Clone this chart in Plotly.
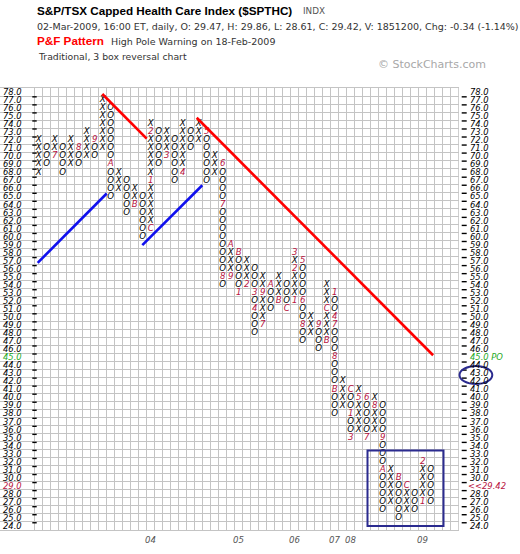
import plotly.graph_objects as go

# ---------------- data ----------------
# Point & Figure columns (column index = position in list), X columns and O columns alternate
col_types = ["X", "O"] * 25
col_lows = [68, 69, 70, 68, 69, 69, 70, 70, 71, 65, 66, 63, 64, 60, 61, 69, 70, 67, 68, 71,
            72, 67, 68, 54, 55, 53, 54, 48, 49, 51, 52, 51, 52, 47, 48, 46, 47, 38, 39, 35,
            36, 35, 36, 26, 27, 25, 26, 26, 27, 27]
col_highs = [72, 71, 72, 71, 72, 71, 73, 72, 77, 76, 68, 67, 66, 65, 74, 73, 73, 72, 74, 73,
             74, 73, 70, 69, 59, 58, 57, 56, 55, 54, 55, 54, 58, 57, 50, 49, 54, 53, 42, 41,
             41, 40, 40, 39, 31, 30, 29, 28, 32, 31]

# month markers that replace an X / O box
month_cols = [2, 5, 7, 9, 12, 14, 14, 14, 16, 18, 21, 23, 23, 23, 24, 24, 25, 25, 26, 27, 27,
              28, 28, 29, 30, 31, 32, 32, 32, 33, 33, 33, 35, 36, 36, 37, 37, 37, 37, 37,
              39, 39, 39, 40, 41, 41, 42, 43, 43, 45, 46, 48, 48]
month_rows = [70, 71, 72, 69, 64, 61, 67, 73, 70, 68, 73, 69, 64, 55, 55, 59, 58, 53, 54, 53, 51,
              49, 53, 54, 52, 51, 52, 56, 58, 57, 52, 49, 49, 47, 51, 53, 50, 49, 45, 41,
              41, 38, 35, 40, 40, 35, 39, 35, 31, 30, 29, 27, 32]
month_labels = ["7", "8", "9", "A", "B", "C", "1", "2", "3", "4", "5", "6", "7", "8", "9", "A",
                "B", "1", "2", "3", "4", "7", "9", "A", "B", "C", "1", "2", "3", "5", "6", "8",
                "9", "B", "C", "1", "4", "7", "8", "B", "C", "1", "3", "5", "6", "7", "8", "9",
                "A", "B", "C", "1", "2"]

# year labels on the bottom axis
year_labels = ["04", "05", "06", "07", "08", "09"]
year_cols = [14, 25, 32, 37, 39, 48]

# price scale (box size 1.0)
price_rows = list(range(24, 79))
po_price = 45          # price objective
last_price = 29.42     # last close
last_row = 29

# trend lines (column, price)
res1_cols, res1_rows = [7.95, 13.5], [77.75, 72.2]
res2_cols, res2_rows = [19.75, 49.3], [74.8, 45.25]
sup1_cols, sup1_rows = [-0.13, 8.5], [56.74, 65.37]
sup2_cols, sup2_rows = [12.95, 20.45], [58.95, 66.4]

# highlight box around the recent pattern (columns / prices)
box_cols = [41.1, 50.6]
box_rows = [24.0, 33.4]

# ---------------- layout helpers ----------------
W, H = 520, 554
ML, MR, MT, MB = 0, 61, 88, 24
PW, PH = W - ML - MR, H - MT - MB
X_MIN, X_MAX = -4.8375, 52.5375
Y_MIN, Y_MAX = 23.5, 78.5


def pxp(xpix):
    return (xpix - ML) / PW


def pyp(ypix):
    return (H - MB - ypix) / PH


def row_to_paper(r):
    return (r - Y_MIN) / (Y_MAX - Y_MIN)


MONTH_COLOR = "#B8123E"
GREEN = "#1faa1f"
GRID = "#c4c4c4"

# ---------------- build boxes ----------------
month_map = {(c, r): m for c, r, m in zip(month_cols, month_rows, month_labels)}
xo_x, xo_y, xo_t = [], [], []
mo_x, mo_y, mo_t = [], [], []
for c, (t, lo, hi) in enumerate(zip(col_types, col_lows, col_highs)):
    for r in range(lo, hi + 1):
        if (c, r) in month_map:
            mo_x.append(c); mo_y.append(r); mo_t.append(month_map[(c, r)])
        else:
            xo_x.append(c); xo_y.append(r); xo_t.append(t)

fig = go.Figure()

box_font = dict(family="DejaVu Sans, Verdana, sans-serif", size=8.6, style="italic")

fig.add_trace(go.Scatter(x=xo_x, y=xo_y, text=xo_t, mode="text", textposition="middle center",
                         textfont=dict(color="#000000", **box_font), hoverinfo="skip",
                         showlegend=False, cliponaxis=False))
fig.add_trace(go.Scatter(x=mo_x, y=mo_y, text=mo_t, mode="text", textposition="middle center",
                         textfont=dict(color=MONTH_COLOR, **box_font), hoverinfo="skip",
                         showlegend=False, cliponaxis=False))

for cols, rows, color in [(res1_cols, res1_rows, "#ff0000"), (res2_cols, res2_rows, "#ff0000"),
                          (sup1_cols, sup1_rows, "#1010ee"), (sup2_cols, sup2_rows, "#1010ee")]:
    fig.add_trace(go.Scatter(x=cols, y=rows, mode="lines", line=dict(color=color, width=2.6),
                             hoverinfo="skip", showlegend=False))

shapes = []
# highlight rectangle
shapes.append(dict(type="rect", xref="x", yref="y", x0=box_cols[0], x1=box_cols[1],
                   y0=box_rows[0], y1=box_rows[1], line=dict(color="#2b2b8f", width=2),
                   fillcolor="rgba(0,0,0,0)"))
# right border of grid
shapes.append(dict(type="line", xref="x", yref="paper", x0=52.5, x1=52.5, y0=0, y1=1,
                   line=dict(color=GRID, width=1)))
# axis tick marks (left and right)
for r in price_rows[1:]:
    yy = row_to_paper(r - 0.5) - 0.8 / PH
    shapes.append(dict(type="line", xref="paper", yref="paper", x0=pxp(32.3), x1=pxp(36.7),
                       y0=yy, y1=yy, line=dict(color="#000000", width=1.4)))
    shapes.append(dict(type="line", xref="paper", yref="paper", x0=pxp(461.7), x1=pxp(466.7),
                       y0=yy, y1=yy, line=dict(color="#000000", width=1.4)))
# ellipse around 43.0
shapes.append(dict(type="circle", xref="paper", yref="paper", x0=pxp(459.5), x1=pxp(492.3),
                   y0=pyp(384), y1=pyp(366), line=dict(color="#2b2b8f", width=2)))

annotations = []
lab_font = dict(family="DejaVu Sans, Verdana, sans-serif", size=8.4, style="italic")
for r in price_rows:
    lc = "#000000"
    if r == po_price:
        lc = GREEN
    elif r == last_row:
        lc = MONTH_COLOR
    annotations.append(dict(x=pxp(0.5), y=r, xref="paper", yref="y", text=f"{r:.1f}",
                            showarrow=False, xanchor="left", yanchor="middle",
                            font=dict(color=lc, **lab_font)))
    if r == po_price:
        rt, rc, rx = f"{r:.1f} PO", GREEN, 468
    elif r == last_row:
        rt, rc, rx = f"&lt;&lt;{last_price:.2f}", MONTH_COLOR, 466
    else:
        rt, rc, rx = f"{r:.1f}", "#000000", 468
    annotations.append(dict(x=pxp(rx), y=r, xref="paper", yref="y", text=rt,
                            showarrow=False, xanchor="left", yanchor="middle",
                            font=dict(color=rc, **lab_font)))

for lab, c in zip(year_labels, year_cols):
    annotations.append(dict(x=c, y=pyp(539.5), xref="x", yref="paper", text=lab,
                            showarrow=False, xanchor="center", yanchor="middle",
                            font=dict(family="DejaVu Sans, Verdana, sans-serif", size=8.6,
                                      style="italic", color="#555555")))

# header
annotations += [
    dict(x=pxp(35), y=pyp(10.5), xref="paper", yref="paper",
         text="<b>S&amp;P/TSX Capped Health Care Index ($SPTHC)</b>", showarrow=False,
         xanchor="left", yanchor="middle",
         font=dict(family="Liberation Sans, Arial, sans-serif", size=11.7, color="#000000")),
    dict(x=pxp(301), y=pyp(11.5), xref="paper", yref="paper", text="INDX", showarrow=False,
         xanchor="left", yanchor="middle",
         font=dict(family="DejaVu Sans, Verdana, sans-serif", size=8.8, color="#555555")),
    dict(x=pxp(35), y=pyp(26.5), xref="paper", yref="paper",
         text="02-Mar-2009, 16:00 ET, daily, O: 29.47, H: 29.86, L: 28.61, C: 29.42, V: 1851200, Chg: -0.34 (-1.14%)",
         showarrow=False, xanchor="left", yanchor="middle",
         font=dict(family="DejaVu Sans, Verdana, sans-serif", size=9.5, color="#333333")),
    dict(x=pxp(35), y=pyp(40.5), xref="paper", yref="paper", text="<b>P&amp;F Pattern</b>",
         showarrow=False, xanchor="left", yanchor="middle",
         font=dict(family="Liberation Sans, Arial, sans-serif", size=11.7, color="#ff0000")),
    dict(x=pxp(109), y=pyp(41.5), xref="paper", yref="paper",
         text="High Pole Warning on 18-Feb-2009", showarrow=False, xanchor="left",
         yanchor="middle",
         font=dict(family="DejaVu Sans, Verdana, sans-serif", size=9.5, color="#333333")),
    dict(x=pxp(36), y=pyp(56.5), xref="paper", yref="paper",
         text="Traditional, 3 box reversal chart", showarrow=False, xanchor="left",
         yanchor="middle",
         font=dict(family="DejaVu Sans, Verdana, sans-serif", size=9.3, color="#333333")),
    dict(x=pxp(376), y=pyp(64.5), xref="paper", yref="paper", text="© StockCharts.com",
         showarrow=False, xanchor="left", yanchor="middle",
         font=dict(family="DejaVu Sans, Verdana, sans-serif", size=11, color="#a8a8a8")),
]

fig.update_layout(
    width=W, height=H, margin=dict(l=ML, r=MR, t=MT, b=MB, pad=0),
    paper_bgcolor="#ffffff", plot_bgcolor="#ffffff",
    xaxis=dict(range=[X_MIN, X_MAX], tickvals=[c - 0.5 for c in range(0, 53)],
               showticklabels=False, ticks="", showgrid=True, gridcolor=GRID, gridwidth=1,
               zeroline=False, showline=True, linecolor=GRID, linewidth=1, mirror=True,
               fixedrange=True),
    yaxis=dict(range=[Y_MIN, Y_MAX], tickvals=[r + 0.5 for r in range(23, 79)],
               showticklabels=False, ticks="", showgrid=True, gridcolor=GRID, gridwidth=1,
               zeroline=False, showline=False, fixedrange=True),
    shapes=shapes, annotations=annotations, showlegend=False,
)

fig.write_html("out.html")
